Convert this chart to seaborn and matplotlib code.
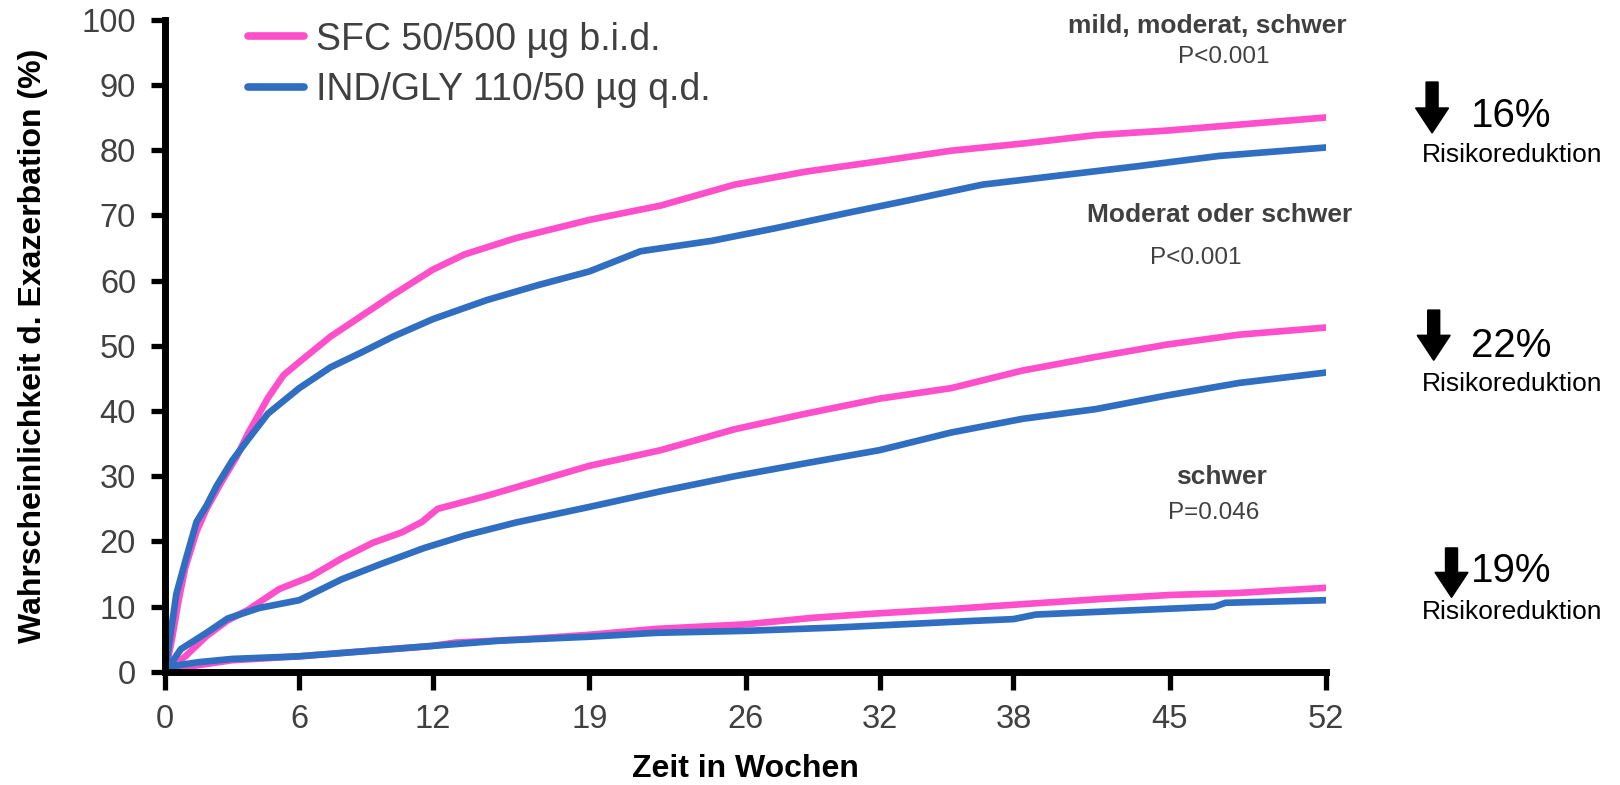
import numpy as np
import pandas as pd
import matplotlib
matplotlib.use("Agg")
import matplotlib.pyplot as plt
from matplotlib.patches import FancyArrow
import seaborn as sns

# ---------------- data ----------------
treatments = ["SFC 50/500 µg b.i.d.", "IND/GLY 110/50 µg q.d."]
x_ticks = [0, 6, 12, 19, 26, 32, 38, 45, 52]
y_ticks = [0, 10, 20, 30, 40, 50, 60, 70, 80, 90, 100]

# all exacerbations (mild, moderate, severe)
all_sfc_w = [0, 0.3, 0.6, 0.9, 1.4, 1.85, 2.5, 3.2, 3.7, 4.6, 5.3, 6, 7.4, 8.8, 10.2, 12, 13.4,
             15.7, 19, 22.2, 25.5, 28.7, 32, 35.2, 38.4, 41.7, 44.9, 48.1, 52]
all_sfc_v = [0, 5, 11, 16, 21.5, 25, 29, 33, 36.5, 42, 45.5, 47.5, 51.4, 54.6, 57.8, 61.7, 64,
             66.5, 69.3, 71.5, 74.7, 76.7, 78.3, 79.9, 81, 82.3, 83, 83.9, 85]
all_ind_w = [0, 0.2, 0.5, 0.9, 1.4, 1.85, 2.3, 3, 3.7, 4.6, 6, 7.4, 8.8, 10.2, 12, 14.4, 16.7,
             19, 21.3, 24.5, 27.3, 30.6, 33.3, 36.6, 39.8, 43.5, 47.2, 52]
all_ind_v = [0, 5, 12, 17, 23, 25.5, 28.5, 32.4, 35.6, 39.6, 43.5, 46.7, 49, 51.4, 54.1, 57, 59.3,
             61.4, 64.5, 66.1, 68, 70.4, 72.3, 74.7, 76, 77.5, 79.1, 80.4]

# moderate or severe
mod_sfc_w = [0, 0.9, 1.85, 2.8, 3.7, 5.1, 6.5, 7.9, 9.3, 10.6, 11.5, 12.2, 14.4, 16.7, 19, 22.2,
             25.5, 28.7, 32, 35.2, 38.4, 41.7, 44.9, 48.1, 52]
mod_sfc_v = [0, 2.4, 5.5, 7.9, 9.5, 12.7, 14.6, 17.4, 19.8, 21.4, 23, 25, 27, 29.3, 31.6, 34,
             37.2, 39.6, 41.9, 43.5, 46.2, 48.3, 50.2, 51.7, 52.8]
mod_ind_w = [0, 0.7, 1.85, 2.8, 4.2, 6, 7.9, 9.7, 11.6, 13.4, 15.7, 19, 22.2, 25.5, 28.7, 32,
             35.2, 38.4, 41.7, 44.9, 48.1, 52]
mod_ind_v = [0, 3.5, 6, 8.2, 9.8, 11, 14.2, 16.6, 19, 20.9, 22.9, 25.3, 27.7, 30, 32, 34,
             36.7, 38.8, 40.3, 42.4, 44.3, 45.9]

# severe
sev_sfc_w = [0, 1, 3, 6, 9, 12, 13, 16, 19, 22, 26, 29, 32, 35, 38, 42, 45, 48, 52]
sev_sfc_v = [0, 0.8, 1.8, 2.4, 3.2, 4, 4.5, 5, 5.7, 6.6, 7.3, 8.3, 9, 9.6, 10.3, 11.2, 11.8, 12.1, 12.9]
sev_ind_w = [0, 0.5, 1.5, 3, 6, 9, 12, 15, 19, 22, 26, 30, 33, 36, 38, 39, 43, 47, 47.5, 52]
sev_ind_v = [0, 1, 1.5, 2, 2.4, 3.2, 4, 4.8, 5.4, 6, 6.3, 6.8, 7.3, 7.8, 8.1, 8.8, 9.4, 10, 10.6, 11]

endpoint_labels = [("mild, moderat, schwer", "P<0.001"),
                   ("Moderat oder schwer", "P<0.001"),
                   ("schwer", "P=0.046")]
reductions = ["16%", "22%", "19%"]

# ---------------- long table ----------------
rows = []
for ep, (ws, vs, wi, vi) in enumerate([(all_sfc_w, all_sfc_v, all_ind_w, all_ind_v),
                                        (mod_sfc_w, mod_sfc_v, mod_ind_w, mod_ind_v),
                                        (sev_sfc_w, sev_sfc_v, sev_ind_w, sev_ind_v)]):
    for w, v in zip(ws, vs):
        rows.append((w, v, treatments[0], ep))
    for w, v in zip(wi, vi):
        rows.append((w, v, treatments[1], ep))
df = pd.DataFrame(rows, columns=["week", "prob", "treatment", "endpoint"])

# ---------------- style ----------------
sns.set_theme(style="white")
plt.rcParams["font.family"] = ["Liberation Sans", "DejaVu Sans"]

PINK = "#FF4FCB"
BLUE = "#2F6EC0"
GRAY = "#404040"

fig = plt.figure(figsize=(16.2, 7.85), dpi=100)
ax = fig.add_axes([0.102, 0.144, 0.7165, 0.831])

sns.lineplot(data=df, x="week", y="prob", hue="treatment", units="endpoint",
             estimator=None, sort=False, hue_order=treatments,
             palette={treatments[0]: PINK, treatments[1]: BLUE},
             linewidth=4.8, ax=ax, legend=True)

ax.set_xlim(0, 52)
ax.set_ylim(0, 100)
ax.set_xticks(x_ticks)
ax.set_yticks(y_ticks)
ax.tick_params(axis="both", colors="black", labelcolor=GRAY, labelsize=23.5, width=3.8)
ax.tick_params(axis="x", length=13, pad=10, direction="out", bottom=True)
ax.tick_params(axis="y", length=10, pad=11, direction="out", left=True)
for s in ["top", "right"]:
    ax.spines[s].set_visible(False)
for s in ["left", "bottom"]:
    ax.spines[s].set_linewidth(5)
    ax.spines[s].set_color("black")
    ax.spines[s].set_capstyle("projecting")

ax.set_xlabel("Zeit in Wochen", fontsize=23, fontweight="bold", color="black", labelpad=14)
ax.set_ylabel("Wahrscheinlichkeit d. Exazerbation (%)", fontsize=23, fontweight="bold",
              color="black", labelpad=24)

leg = ax.legend(loc="upper left", bbox_to_anchor=(0.0715, 0.997), frameon=False,
                fontsize=27, handlelength=1.5, handletextpad=0.3, labelspacing=0.39,
                borderpad=0, borderaxespad=0)
for t in leg.get_texts():
    t.set_color(GRAY)
for l in leg.get_lines():
    l.set_linewidth(5.5)

# endpoint annotations (figure coordinates)
ann_pos = [((0.745, 0.967), (0.7556, 0.927)),
           ((0.753, 0.726), (0.738, 0.671)),
           ((0.754, 0.392), (0.749, 0.346))]
for (title, p), ((tx, ty), (px, py)) in zip(endpoint_labels, ann_pos):
    fig.text(tx, ty, title, ha="center", va="center", fontsize=19, fontweight="bold", color=GRAY)
    fig.text(px, py, p, ha="center", va="center", fontsize=17.5, color=GRAY)

# risk reduction arrows
arrow_specs = [(0.884, 0.8955, 0.8306), (0.885, 0.605, 0.541), (0.896, 0.302, 0.239)]
pct_y = [(0.852, 0.8025), (0.559, 0.511), (0.2726, 0.220)]
for red, (ax_x, y0, y1), (py, ry) in zip(reductions, arrow_specs, pct_y):
    hl = 25 / 785
    arr = FancyArrow(ax_x, y0, 0, -(y0 - y1) + hl, width=12 / 1620, head_width=33 / 1620,
                     head_length=hl, length_includes_head=False, color="black",
                     transform=fig.transFigure, figure=fig)
    fig.patches.append(arr)
    fig.text(0.9327, py, red, ha="center", va="center", fontsize=29, color="black")
    fig.text(0.9333, ry, "Risikoreduktion", ha="center", va="center", fontsize=19, color="black")

fig.savefig("out.png", dpi=100)
